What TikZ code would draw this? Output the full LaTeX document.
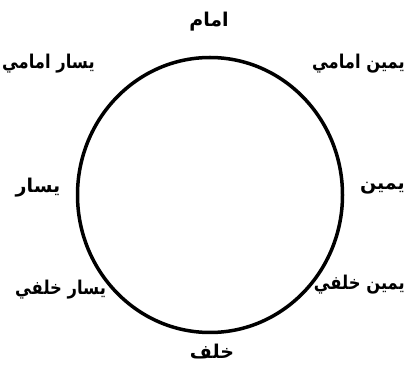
\documentclass[tikz,border=0pt]{standalone}
\usepackage{fontspec}
\usepackage{graphicx}
\usetikzlibrary{shapes.geometric}
\TeXXeTstate=1
\newfontfamily\arabicfont[Script=Arabic]{DejaVu Sans}
\newcommand{\narrowtxt}[1]{\scalebox{0.86}[1]{#1}}
\tikzset{
  lbl/.style={font=\arabicfont\bfseries\fontsize{19}{21}\selectfont, inner sep=1pt},
  ring/.style={draw=black, line width=3.5pt}
}
\begin{document}
\begin{tikzpicture}[x=1pt,y=-1pt]
\useasboundingbox[fill=white] (0,0) rectangle (407,371);
\node[ring, ellipse, minimum width=265pt, minimum height=275pt, inner sep=0pt] (c) at (210,195) {};
\node[lbl] (f)  at (209,22)  {\beginR امام\endR};
\node[lbl, anchor=west] (fl) at (1,64)   {\narrowtxt{\beginR يسار امامي\endR}};
\node[lbl, anchor=east] (fr) at (406,64)  {\narrowtxt{\beginR يمين امامي\endR}};
\node[lbl] (l)  at (38,188)  {\beginR يسار\endR};
\node[lbl, anchor=east] (r)  at (406,188) {\beginR يمين\endR};
\node[lbl, anchor=west] (bl) at (14,290)  {\narrowtxt{\beginR يسار خلفي\endR}};
\node[lbl, anchor=east] (br) at (406,285) {\narrowtxt{\beginR يمين خلفي\endR}};
\node[lbl] (b)  at (212,352) {\beginR خلف\endR};
\end{tikzpicture}
\end{document}
